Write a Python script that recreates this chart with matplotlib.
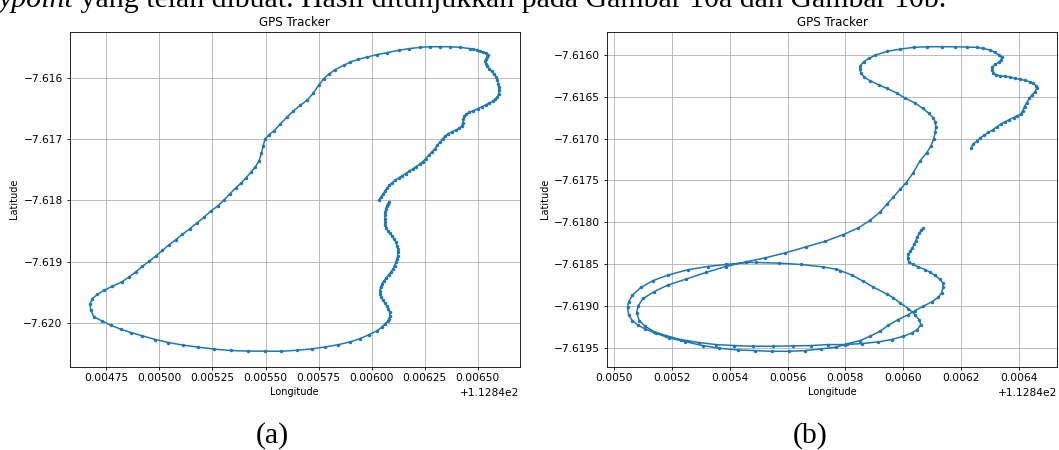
import numpy as np
import matplotlib
matplotlib.use("Agg")
import matplotlib.pyplot as plt

# jalur GPS (a): longitude / latitude per titik
lon_a = [
    112.846083, 112.846077, 112.846071, 112.846068, 112.846064, 112.846063, 112.846063, 112.846063,
    112.846064, 112.846069, 112.846077, 112.846086, 112.846097, 112.846107, 112.846115, 112.846119,
    112.846123, 112.846124, 112.846123, 112.846119, 112.846115, 112.846108, 112.846101, 112.846091,
    112.846080, 112.846069, 112.846058, 112.846049, 112.846042, 112.846039, 112.846041, 112.846046,
    112.846053, 112.846063, 112.846071, 112.846079, 112.846085, 112.846086, 112.846083, 112.846075,
    112.846064, 112.846050, 112.846024, 112.845989, 112.845945, 112.845898, 112.845843, 112.845781,
    112.845717, 112.845646, 112.845575, 112.845497, 112.845418, 112.845336, 112.845259, 112.845184,
    112.845112, 112.845042, 112.844980, 112.844920, 112.844865, 112.844818, 112.844770, 112.844731,
    112.844692, 112.844676, 112.844673, 112.844684, 112.844708, 112.844739, 112.844778, 112.844822,
    112.844857, 112.844888, 112.844920, 112.844951, 112.844983, 112.845014, 112.845046, 112.845077,
    112.845108, 112.845143, 112.845176, 112.845211, 112.845242, 112.845274, 112.845305, 112.845332,
    112.845360, 112.845384, 112.845407, 112.845431, 112.845451, 112.845470, 112.845481, 112.845489,
    112.845498, 112.845517, 112.845541, 112.845570, 112.845602, 112.845631, 112.845664, 112.845695,
    112.845726, 112.845750, 112.845774, 112.845797, 112.845828, 112.845868, 112.845899, 112.845938,
    112.845978, 112.846025, 112.846072, 112.846127, 112.846174, 112.846229, 112.846276, 112.846323,
    112.846370, 112.846417, 112.846464, 112.846480, 112.846495, 112.846511, 112.846527, 112.846539,
    112.846547, 112.846546, 112.846539, 112.846535, 112.846538, 112.846546, 112.846555, 112.846566,
    112.846577, 112.846587, 112.846593, 112.846597, 112.846599, 112.846601, 112.846599, 112.846593,
    112.846583, 112.846571, 112.846555, 112.846539, 112.846519, 112.846500, 112.846480, 112.846461,
    112.846445, 112.846437, 112.846433, 112.846431, 112.846425, 112.846414, 112.846398, 112.846379,
    112.846362, 112.846348, 112.846335, 112.846323, 112.846310, 112.846298, 112.846284, 112.846269,
    112.846255, 112.846241, 112.846226, 112.846210, 112.846194, 112.846177, 112.846160, 112.846142,
    112.846127, 112.846111, 112.846097, 112.846084, 112.846073, 112.846064, 112.846054, 112.846045,
    112.846036,
]
lat_a = [
    -7.618027, -7.618054, -7.618092, -7.618136, -7.618190, -7.618245, -7.618299, -7.618354,
    -7.618408, -7.618452, -7.618495, -7.618539, -7.618582, -7.618631, -7.618685, -7.618740,
    -7.618794, -7.618849, -7.618903, -7.618957, -7.619012, -7.619066, -7.619121, -7.619170,
    -7.619219, -7.619268, -7.619316, -7.619365, -7.619420, -7.619474, -7.619529, -7.619578,
    -7.619627, -7.619676, -7.619724, -7.619773, -7.619828, -7.619882, -7.619931, -7.619975,
    -7.620013, -7.620067, -7.620132, -7.620192, -7.620258, -7.620312, -7.620356, -7.620394,
    -7.620426, -7.620448, -7.620464, -7.620462, -7.620462, -7.620451, -7.620429, -7.620397,
    -7.620364, -7.620321, -7.620272, -7.620212, -7.620158, -7.620104, -7.620039, -7.619973,
    -7.619903, -7.619794, -7.619697, -7.619604, -7.619534, -7.619469, -7.619404, -7.619333,
    -7.619252, -7.619170, -7.619078, -7.618997, -7.618910, -7.618818, -7.618725, -7.618644,
    -7.618557, -7.618465, -7.618373, -7.618275, -7.618177, -7.618096, -7.617993, -7.617895,
    -7.617798, -7.617722, -7.617640, -7.617543, -7.617461, -7.617353, -7.617233, -7.617109,
    -7.617000, -7.616929, -7.616864, -7.616755, -7.616641, -7.616544, -7.616451, -7.616370,
    -7.616250, -7.616125, -7.616016, -7.615946, -7.615870, -7.615799, -7.615745, -7.615701,
    -7.615663, -7.615625, -7.615592, -7.615554, -7.615527, -7.615505, -7.615495, -7.615495,
    -7.615495, -7.615505, -7.615527, -7.615533, -7.615549, -7.615565, -7.615582, -7.615603,
    -7.615636, -7.615668, -7.615701, -7.615734, -7.615772, -7.615810, -7.615853, -7.615897,
    -7.615940, -7.615989, -7.616043, -7.616098, -7.616152, -7.616207, -7.616261, -7.616315,
    -7.616353, -7.616386, -7.616413, -7.616440, -7.616478, -7.616505, -7.616538, -7.616565,
    -7.616598, -7.616630, -7.616679, -7.616734, -7.616788, -7.616826, -7.616853, -7.616880,
    -7.616913, -7.616951, -7.616995, -7.617049, -7.617103, -7.617158, -7.617212, -7.617266,
    -7.617321, -7.617370, -7.617413, -7.617451, -7.617489, -7.617527, -7.617565, -7.617603,
    -7.617636, -7.617674, -7.617712, -7.617756, -7.617799, -7.617848, -7.617897, -7.617940,
    -7.617989,
]

# jalur GPS (b)
lon_b = [
    112.846235, 112.846243, 112.846255, 112.846266, 112.846280, 112.846295, 112.846310, 112.846324,
    112.846338, 112.846353, 112.846368, 112.846382, 112.846395, 112.846407, 112.846414, 112.846420,
    112.846428, 112.846437, 112.846447, 112.846456, 112.846462, 112.846460, 112.846451, 112.846439,
    112.846422, 112.846405, 112.846387, 112.846370, 112.846353, 112.846335, 112.846322, 112.846312,
    112.846307, 112.846309, 112.846318, 112.846330, 112.846339, 112.846341, 112.846333, 112.846318,
    112.846301, 112.846278, 112.846255, 112.846220, 112.846180, 112.846134, 112.846084, 112.846036,
    112.845990, 112.845944, 112.845904, 112.845881, 112.845863, 112.845852, 112.845850, 112.845854,
    112.845866, 112.845886, 112.845915, 112.845944, 112.845978, 112.846007, 112.846042, 112.846068,
    112.846088, 112.846103, 112.846111, 112.846113, 112.846111, 112.846105, 112.846096, 112.846082,
    112.846058, 112.846035, 112.846010, 112.845989, 112.845966, 112.845943, 112.845920, 112.845885,
    112.845845, 112.845792, 112.845730, 112.845663, 112.845591, 112.845522, 112.845456, 112.845387,
    112.845317, 112.845248, 112.845185, 112.845138, 112.845100, 112.845083, 112.845077, 112.845087,
    112.845107, 112.845138, 112.845179, 112.845231, 112.845294, 112.845352, 112.845415, 112.845479,
    112.845548, 112.845617, 112.845681, 112.845739, 112.845799, 112.845857, 112.845914, 112.845960,
    112.846001, 112.846030, 112.846049, 112.846061, 112.846056, 112.846041, 112.846018, 112.845989,
    112.845966, 112.845943, 112.845897, 112.845862, 112.845822, 112.845782, 112.845767, 112.845721,
    112.845646, 112.845571, 112.845490, 112.845456, 112.845387, 112.845323, 112.845254, 112.845185,
    112.845133, 112.845092, 112.845063, 112.845050, 112.845046, 112.845050, 112.845063, 112.845081,
    112.845107, 112.845144, 112.845190, 112.845246, 112.845306, 112.845364, 112.845427, 112.845487,
    112.845545, 112.845604, 112.845661, 112.845715, 112.845767, 112.845805, 112.845851, 112.845885,
    112.845920, 112.845949, 112.845983, 112.846018, 112.846041, 112.846070, 112.846099, 112.846122,
    112.846133, 112.846139, 112.846137, 112.846128, 112.846110, 112.846093, 112.846076, 112.846053,
    112.846033, 112.846019, 112.846015, 112.846018, 112.846024, 112.846032, 112.846038, 112.846043,
    112.846049, 112.846056, 112.846063, 112.846070,
]
lat_b = [
    -7.617108, -7.617068, -7.617028, -7.616996, -7.616960, -7.616928, -7.616896, -7.616861,
    -7.616829, -7.616801, -7.616773, -7.616749, -7.616729, -7.616709, -7.616669, -7.616618,
    -7.616570, -7.616522, -7.616478, -7.616442, -7.616402, -7.616371, -7.616339, -7.616323,
    -7.616307, -7.616291, -7.616283, -7.616267, -7.616259, -7.616251, -7.616239, -7.616219,
    -7.616183, -7.616147, -7.616116, -7.616092, -7.616060, -7.616028, -7.616004, -7.615972,
    -7.615944, -7.615924, -7.615912, -7.615908, -7.615904, -7.615904, -7.615904, -7.615912,
    -7.615932, -7.615960, -7.616004, -7.616044, -7.616084, -7.616131, -7.616171, -7.616219,
    -7.616271, -7.616311, -7.616359, -7.616402, -7.616458, -7.616518, -7.616578, -7.616641,
    -7.616697, -7.616749, -7.616801, -7.616857, -7.616928, -7.617008, -7.617088, -7.617167,
    -7.617269, -7.617408, -7.617528, -7.617608, -7.617699, -7.617787, -7.617878, -7.617978,
    -7.618066, -7.618148, -7.618227, -7.618294, -7.618366, -7.618425, -7.618472, -7.618528,
    -7.618599, -7.618679, -7.618750, -7.618829, -7.618909, -7.618996, -7.619083, -7.619175,
    -7.619242, -7.619306, -7.619353, -7.619401, -7.619436, -7.619460, -7.619472, -7.619480,
    -7.619480, -7.619476, -7.619472, -7.619460, -7.619460, -7.619448, -7.619428, -7.619400,
    -7.619361, -7.619321, -7.619281, -7.619221, -7.619169, -7.619102, -7.619030, -7.618962,
    -7.618902, -7.618855, -7.618775, -7.618703, -7.618631, -7.618576, -7.618560, -7.618532,
    -7.618504, -7.618488, -7.618480, -7.618480, -7.618504, -7.618528, -7.618567, -7.618631,
    -7.618698, -7.618778, -7.618869, -7.618948, -7.619016, -7.619107, -7.619175, -7.619226,
    -7.619274, -7.619325, -7.619381, -7.619425, -7.619472, -7.619504, -7.619524, -7.619532,
    -7.619540, -7.619540, -7.619532, -7.619512, -7.619492, -7.619452, -7.619412, -7.619361,
    -7.619301, -7.619229, -7.619161, -7.619102, -7.619054, -7.619002, -7.618950, -7.618894,
    -7.618843, -7.618775, -7.618723, -7.618683, -7.618635, -7.618596, -7.618564, -7.618532,
    -7.618504, -7.618472, -7.618432, -7.618384, -7.618345, -7.618305, -7.618265, -7.618225,
    -7.618177, -7.618129, -7.618094, -7.618066,
]

judul = "GPS Tracker"
label_x = "Longitude"
label_y = "Latitude"
teks_miring = "ypoint"
teks_biasa = " yang telah dibuat. Hasil ditunjukkan pada Gambar 10a dan Gambar 10b."
caption = ["(a)", "(b)"]

# ukuran font dan garis diperkecil (gambar asli di-skala ~0.7)
plt.rcParams.update({
    "font.size": 7,
    "axes.titlesize": 8.6,
    "axes.labelsize": 7,
    "xtick.labelsize": 7.7,
    "ytick.labelsize": 7.7,
    "axes.linewidth": 0.6,
    "xtick.major.size": 2.5,
    "ytick.major.size": 2.5,
    "xtick.major.width": 0.6,
    "ytick.major.width": 0.6,
    "xtick.major.pad": 2.5,
    "ytick.major.pad": 2.5,
    "grid.linewidth": 0.6,
    "axes.titlepad": 4.2,
    "axes.labelpad": 2.8,
})

W, H = 1059, 450
fig = plt.figure(figsize=(W / 100, H / 100), dpi=100)
fig.patch.set_facecolor("white")

posisi = [[69.6 / W, 1 - 366.5 / H, 450 / W, 335 / H],
          [607.1 / W, 1 - 366.5 / H, 450 / W, 335 / H]]
data = [(lon_a, lat_a), (lon_b, lat_b)]

for i in range(2):
    ax = fig.add_axes(posisi[i])
    lon, lat = data[i]
    ax.plot(lon, lat, "-o", color="#1f77b4", linewidth=1.1,
            markersize=2.5, markeredgewidth=0)
    ax.set_title(judul)
    ax.set_xlabel(label_x)
    ax.set_ylabel(label_y)
    ax.grid(True)

# caption (a) dan (b)
fig.text(272 / W, 1 - 443 / H, caption[0], ha="center", va="baseline",
         fontsize=21.5, family="Liberation Serif")
fig.text(810 / W, 1 - 443 / H, caption[1], ha="center", va="baseline",
         fontsize=21.5, family="Liberation Serif")

# potongan kalimat di atas gambar (terpotong di tepi atas, seperti aslinya)
y_teks = 1 - 7 / H
t1 = fig.text(-2 / W, y_teks, teks_miring, ha="left", va="baseline",
              fontsize=21.5, family="Liberation Serif", style="italic")
fig.canvas.draw()
bb = t1.get_window_extent(renderer=fig.canvas.get_renderer())
fig.text(bb.x1 / W, y_teks, teks_biasa, ha="left", va="baseline",
         fontsize=21.5, family="Liberation Serif")

fig.savefig("out.png", dpi=100)
